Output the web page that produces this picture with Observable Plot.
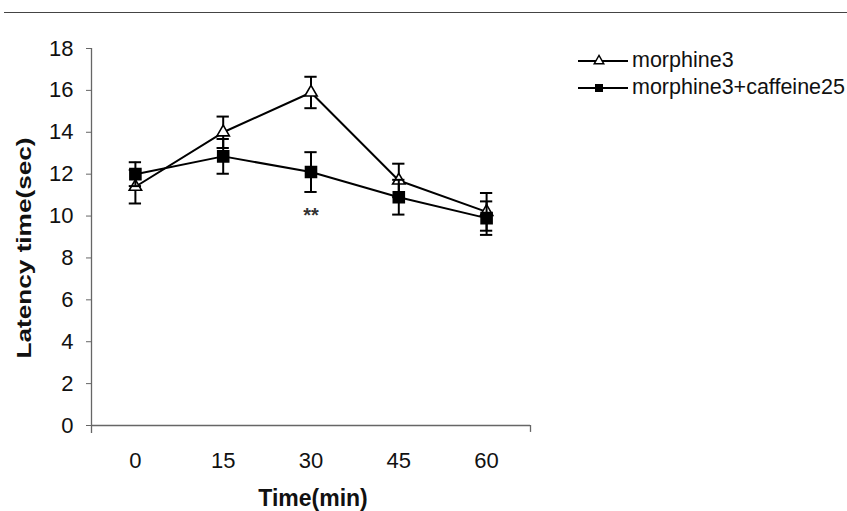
<!DOCTYPE html>
<html>
<head>
<meta charset="utf-8">
<script src="https://cdn.jsdelivr.net/npm/d3@7"></script>
<script src="https://cdn.jsdelivr.net/npm/@observablehq/plot@0.6"></script>
<style>
  html, body { margin: 0; padding: 0; background: #fff; }
  #chart { position: relative; width: 847px; height: 511px; overflow: hidden; font-family: "Liberation Sans", Arial, sans-serif; }
  #topline { position: absolute; top: 12px; left: 4px; right: 0; height: 1px; background: #444; }
  #legend { position: absolute; left: 578px; top: 47px; font-size: 21.5px; color: #111; }
  .row { display: flex; align-items: center; height: 27px; white-space: nowrap; }
  .row svg { margin-right: 4px; }
</style>
</head>
<body>
<div id="chart">
  <div id="topline"></div>
  <div id="legend"></div>
</div>
<script>
// Tail-flick latency over time for the two treatment groups (mean ± SE)
const minutes = [0, 15, 30, 45, 60];
const seriesNames = ["morphine3", "morphine3+caffeine25"];
const morphine3 = [11.4, 14.0, 15.9, 11.7, 10.2];
const morphine3SE = [0.8, 0.75, 0.75, 0.8, 0.9];
const morphineCaffeine = [12.0, 12.85, 12.1, 10.9, 9.9];
const morphineCaffeineSE = [0.57, 0.83, 0.95, 0.83, 0.8];
const significance = ["", "", "**", "", ""];
const yTicks = [0, 2, 4, 6, 8, 10, 12, 14, 16, 18];
const yTitle = "Latency time(sec)";
const xTitle = "Time(min)";

const rows = (means, ses, name) => minutes.map((t, i) => ({
  t, mean: means[i], lo: means[i] - ses[i], hi: means[i] + ses[i], name, sig: significance[i]
}));
const morph = rows(morphine3, morphine3SE, seriesNames[0]);
const combo = rows(morphineCaffeine, morphineCaffeineSE, seriesNames[1]);

const cap = 1.05;   // half-width of error-bar caps, in minutes
const axisGray = "#666";

function seriesMarks(data, symbol, fill, r) {
  return [
    Plot.line(data, {x: "t", y: "mean", stroke: "#000", strokeWidth: 2}),
    Plot.ruleX(data, {x: "t", y1: "lo", y2: "hi", stroke: "#000", strokeWidth: 2}),
    Plot.ruleY(data, {y: "lo", x1: d => d.t - cap, x2: d => d.t + cap, stroke: "#000", strokeWidth: 2}),
    Plot.ruleY(data, {y: "hi", x1: d => d.t - cap, x2: d => d.t + cap, stroke: "#000", strokeWidth: 2}),
    Plot.dot(data, {x: "t", y: "mean", symbol, r, fill, stroke: "#000", strokeWidth: 1.6})
  ];
}

const svg = Plot.plot({
  width: 847,
  height: 511,
  marginLeft: 91,
  marginRight: 317,
  marginTop: 48,
  marginBottom: 86,
  style: {fontFamily: "'Liberation Sans', Arial, sans-serif", fontSize: "22px", color: "#111", background: "transparent"},
  x: {domain: [-7.5, 67.5]},
  y: {domain: [0, 18]},
  marks: [
    // axes
    Plot.ruleY([0], {stroke: axisGray, strokeWidth: 1.3}),
    Plot.ruleX([-7.5], {y1: -0.38, y2: 18, stroke: axisGray, strokeWidth: 1.3}),
    Plot.ruleX([67.5], {y1: -0.33, y2: 0, stroke: axisGray, strokeWidth: 1.3}),
    Plot.axisY({ticks: yTicks, tickSize: 5, tickPadding: 13, stroke: axisGray, fill: "#111", fontSize: 22, label: null}),
    Plot.axisX({ticks: minutes, tickSize: 0, tickPadding: 27, fill: "#111", fontSize: 22, label: null}),
    Plot.text([yTitle], {frameAnchor: "left", textAnchor: "middle", lineAnchor: "middle", rotate: -90,
      dx: -67, dy: 11, fontWeight: "bold", fontSize: 21, fill: "#111"}),
    Plot.text([xTitle], {frameAnchor: "bottom", textAnchor: "middle", lineAnchor: "middle", dx: 2, dy: 73,
      fontWeight: "bold", fontSize: 23, fill: "#111"}),
    // series
    ...seriesMarks(morph, "triangle", "#fff", 4.6),
    ...seriesMarks(combo, "square", "#000", 6.2),
    Plot.text(combo, {x: "t", y: "lo", text: "sig", dy: 24, fontSize: 20, fontWeight: "bold", fill: "#333"})
  ]
});
document.getElementById("chart").prepend(svg);
svg.style.position = "absolute";
svg.style.left = "0";
svg.style.top = "0";

// The vertical title is set wide, as in the printed figure
d3.select(svg).selectAll("text")
  .filter(function() { return this.textContent === yTitle; })
  .attr("textLength", 221)
  .attr("lengthAdjust", "spacingAndGlyphs");

// Legend
const legend = d3.select("#legend");
const symbols = [
  {name: seriesNames[0], draw: g => g.append("path").attr("d", d3.symbol(d3.symbolTriangle, 40)()).attr("fill", "#fff").attr("stroke", "#000").attr("stroke-width", 1.4)},
  {name: seriesNames[1], draw: g => g.append("rect").attr("x", -4).attr("y", -4).attr("width", 8).attr("height", 8).attr("fill", "#000")}
];
for (const s of symbols) {
  const row = legend.append("div").attr("class", "row");
  const sv = row.append("svg").attr("width", 50).attr("height", 14);
  sv.append("line").attr("x1", 0).attr("x2", 50).attr("y1", 7).attr("y2", 7).attr("stroke", "#000").attr("stroke-width", 2);
  s.draw(sv.append("g").attr("transform", "translate(21,7)"));
  row.append("span").text(s.name);
}
</script>
</body>
</html>
